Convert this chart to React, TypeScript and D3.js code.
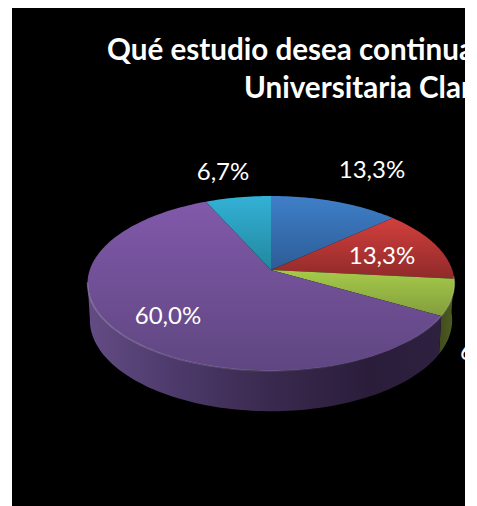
import React from "react";
import * as d3 from "d3";

const titleLines = ["Qué estudio desea continua", "Universitaria Clar"];
const values = [13.3, 13.3, 6.7, 60.0, 6.7];
const labels = ["13,3%", "13,3%", "6,7%", "60,0%", "6,7%"];
const topLight = ["#3f7fc8", "#d23f3d", "#a6ca4b", "#8159aa", "#33b1d6"];
const topDark = ["#2c5c96", "#8f2a2a", "#829e3b", "#5f4681", "#22879f"];
const labelX = [372, 382, 460, 168, 223];
const labelY = [170, 256, 352, 316, 172];

const W = 477, H = 506;
const cx = 271, apexY = 270, k = -0.154;
const R = 181.3, D = 85.4;
const R2 = 179, D2 = 89, apexY2 = 306;

const pie = d3.pie<number>().sort(null).value((d) => d);
const arcs = pie(values);
const sx = d3.scaleLinear().domain([0, 1]).range([0, 1]);

function project(a: number, r: number, rx: number, ry: number, y0: number): [number, number] {
  const u = sx(r) * Math.sin(a);
  const v = -sx(r) * Math.cos(a);
  const w = 1 + k * v;
  return [cx + (rx * u) / w, y0 + (ry * v) / w];
}
const line = d3.line();
function rim(a0: number, a1: number, rx: number, ry: number, y0: number) {
  const n = Math.max(2, Math.ceil(Math.abs(a1 - a0) * 40));
  return d3.range(n + 1).map((i) => project(a0 + ((a1 - a0) * i) / n, 1, rx, ry, y0));
}
const topPath = (a0: number, a1: number) =>
  line([[cx, apexY], ...rim(a0, a1, R, D, apexY)])! + "Z";
const sidePath = (a0: number, a1: number) =>
  line([...rim(a0, a1, R, D, apexY), ...rim(a1, a0, R2, D2, apexY2)])! + "Z";

const sideEnd = (262 * Math.PI) / 180;
const sideStart = (94 * Math.PI) / 180;
const rimFront = line(rim(sideStart, sideEnd, R, D, apexY))!;

export default function App() {
  const green = arcs[2];
  const purple = arcs[3];
  return (
    <svg
      width={W}
      height={H}
      style={{ position: "absolute", left: 0, top: 0, background: "#fff", fontFamily: "Lato, 'Open Sans', sans-serif" }}
    >
      <defs>
        <clipPath id="plot">
          <rect x={12} y={8} width={453} height={498} />
        </clipPath>
        {arcs.map((_, i) => (
          <linearGradient key={i} id={`top${i}`} x1={0} x2={0} y1={0} y2={1}>
            <stop offset="0" stopColor={topLight[i]} />
            <stop offset="1" stopColor={topDark[i]} />
          </linearGradient>
        ))}
        <linearGradient id="sideP" gradientUnits="userSpaceOnUse" x1={87} x2={440} y1={0} y2={0}>
          <stop offset="0" stopColor="#634c84" />
          <stop offset="0.25" stopColor="#4d3a6b" />
          <stop offset="0.5" stopColor="#3b2a50" />
          <stop offset="0.8" stopColor="#2a1d3a" />
          <stop offset="1" stopColor="#2e2140" />
        </linearGradient>
        <linearGradient id="sideG" gradientUnits="userSpaceOnUse" x1={437} x2={454} y1={0} y2={0}>
          <stop offset="0" stopColor="#3e4a1b" />
          <stop offset="1" stopColor="#4f5d23" />
        </linearGradient>
        <linearGradient id="rimG" gradientUnits="userSpaceOnUse" x1={87} x2={454} y1={0} y2={0}>
          <stop offset="0" stopColor="#fff" stopOpacity={0.25} />
          <stop offset="0.45" stopColor="#fff" stopOpacity={0.12} />
          <stop offset="0.85" stopColor="#fff" stopOpacity={0} />
          <stop offset="0.95" stopColor="#fff" stopOpacity={0.15} />
          <stop offset="1" stopColor="#fff" stopOpacity={0.2} />
        </linearGradient>
      </defs>
      <rect x={12} y={8} width={453} height={498} fill="#000" />
      <g clipPath="url(#plot)">
        <path d={sidePath(sideStart, green.endAngle)} fill="url(#sideG)" />
        <path d={sidePath(purple.startAngle, sideEnd)} fill="url(#sideP)" />
        {arcs.map((a, i) => (
          <path key={i} d={topPath(a.startAngle, a.endAngle)} fill={`url(#top${i})`} />
        ))}
        <path d={rimFront} fill="none" stroke="url(#rimG)" strokeWidth={1.5} />
        <g fill="#fff" fontWeight={700} fontSize={29.6}>
          <text x={107} y={60}>{titleLines[0]}</text>
          <text x={244} y={98}>{titleLines[1]}</text>
        </g>
        <g fill="#fff" fontSize={24}>
          {labels.map((l, i) => (
            <text key={i} x={labelX[i]} y={labelY[i] + 8} textAnchor={i === 2 ? "start" : "middle"}>{l}</text>
          ))}
        </g>
      </g>
    </svg>
  );
}
